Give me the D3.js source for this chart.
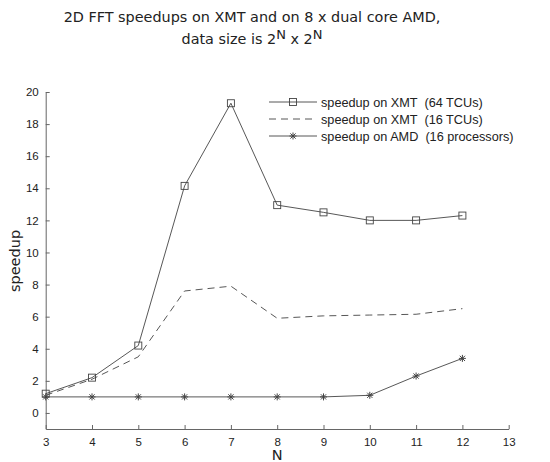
<!DOCTYPE html>
<html>
<head>
<meta charset="utf-8">
<script src="https://cdn.jsdelivr.net/npm/d3@7"></script>
<style>
  body { margin: 0; background: #fff; }
  svg { display: block; }
</style>
</head>
<body>
<svg id="chart" width="550" height="462"></svg>
<script>
// values
var sizesN = [3, 4, 5, 6, 7, 8, 9, 10, 11, 12];
var xmt64 = [1.2, 2.2, 4.2, 14.15, 19.3, 12.95, 12.5, 12.0, 12.0, 12.3];
var xmt16 = [1.1, 2.1, 3.5, 7.6, 7.9, 5.9, 6.05, 6.1, 6.15, 6.5];
var amd16 = [1.0, 1.0, 1.0, 1.0, 1.0, 1.0, 1.0, 1.1, 2.3, 3.4];
var xTicks = [3, 4, 5, 6, 7, 8, 9, 10, 11, 12, 13];
var yTicks = [0, 2, 4, 6, 8, 10, 12, 14, 16, 18, 20];
var legendLabels = ["speedup on XMT  (64 TCUs)", "speedup on XMT  (16 TCUs)", "speedup on AMD  (16 processors)"];

var svg = d3.select("#chart");
var ink = "#444";

var x = d3.scaleLinear().domain([3, 13]).range([45.7, 508.7]);
var y = d3.scaleLinear().domain([-1, 20]).range([429, 92]);

// title
var title = svg.append("text")
    .attr("x", 252).attr("y", 22)
    .attr("text-anchor", "middle")
    .style("font-family", "DejaVu Sans").style("font-size", "14.4px").style("fill", "#222");
title.append("tspan").text("2D FFT speedups on XMT and on 8 x dual core AMD,");
var t2 = svg.append("text")
    .attr("x", 252).attr("y", 44)
    .attr("text-anchor", "middle")
    .style("font-family", "DejaVu Sans").style("font-size", "14.4px").style("fill", "#222");
t2.append("tspan").text("data size is 2");
t2.append("tspan").attr("dy", -5).style("font-size", "13px").text("N");
t2.append("tspan").attr("dy", 5).text(" x 2");
t2.append("tspan").attr("dy", -5).style("font-size", "13px").text("N");

// axes (ticks pointing inward, no box)
var xAxis = svg.append("g").attr("transform", "translate(0," + y(-1) + ")")
    .call(d3.axisBottom(x).tickValues(xTicks).tickSizeInner(-4).tickSizeOuter(0).tickPadding(9));
var yAxis = svg.append("g").attr("transform", "translate(" + x(3) + ",0)")
    .call(d3.axisLeft(y).tickValues(yTicks).tickSizeInner(-4).tickSizeOuter(0).tickPadding(7));
[xAxis, yAxis].forEach(function(a) {
    a.select(".domain").attr("stroke", "#666");
    a.selectAll(".tick line").attr("stroke", "#666");
    a.selectAll(".tick text").style("font-family", "Liberation Sans").style("font-size", "11.5px").attr("fill", "#222");
});

// axis labels
svg.append("text")
    .attr("x", x(8)).attr("y", 460)
    .attr("text-anchor", "middle")
    .style("font-family", "DejaVu Sans").style("font-size", "14.5px").style("fill", "#222")
    .text("N");
svg.append("text")
    .attr("transform", "translate(20,261) rotate(-90)")
    .attr("text-anchor", "middle")
    .style("font-family", "DejaVu Sans").style("font-size", "14.5px").style("fill", "#222")
    .text("speedup");

function pts(vals) {
    return sizesN.map(function(n, i) { return [n, vals[i]]; });
}
var line = d3.line().x(function(d) { return x(d[0]); }).y(function(d) { return y(d[1]); });

function square(g, cx, cy) {
    g.append("rect").attr("x", cx - 3.5).attr("y", cy - 3.5).attr("width", 7).attr("height", 7)
        .attr("fill", "none").attr("stroke", ink).attr("stroke-width", 0.9);
}
function star(g, cx, cy) {
    var r = 3.5, d = 2.6;
    var p = "M" + (cx - r) + "," + cy + "H" + (cx + r) +
        "M" + cx + "," + (cy - r) + "V" + (cy + r) +
        "M" + (cx - d) + "," + (cy - d) + "L" + (cx + d) + "," + (cy + d) +
        "M" + (cx - d) + "," + (cy + d) + "L" + (cx + d) + "," + (cy - d);
    g.append("path").attr("d", p).attr("stroke", ink).attr("stroke-width", 1).attr("fill", "none");
}

var series = [
    { vals: xmt64, dash: null, marker: square },
    { vals: xmt16, dash: "7,5", marker: null },
    { vals: amd16, dash: null, marker: star }
];

series.forEach(function(s) {
    svg.append("path").datum(pts(s.vals))
        .attr("d", line)
        .attr("fill", "none").attr("stroke", ink).attr("stroke-width", 0.9)
        .attr("stroke-dasharray", s.dash);
    if (s.marker) {
        var g = svg.append("g");
        pts(s.vals).forEach(function(d) { s.marker(g, x(d[0]), y(d[1])); });
    }
});

// legend
var legend = svg.append("g");
var rowY = [102, 119, 136];
series.forEach(function(s, i) {
    legend.append("line")
        .attr("x1", 269).attr("x2", 317).attr("y1", rowY[i]).attr("y2", rowY[i])
        .attr("stroke", ink).attr("stroke-width", 0.9)
        .attr("stroke-dasharray", s.dash);
    if (s.marker) s.marker(legend, 293, rowY[i]);
    legend.append("text")
        .attr("x", 321).attr("y", rowY[i] + 4.5)
        .style("font-family", "Liberation Sans").style("font-size", "12.7px").style("fill", "#222")
        .style("white-space", "pre")
        .text(legendLabels[i]);
});
</script>
</body>
</html>
